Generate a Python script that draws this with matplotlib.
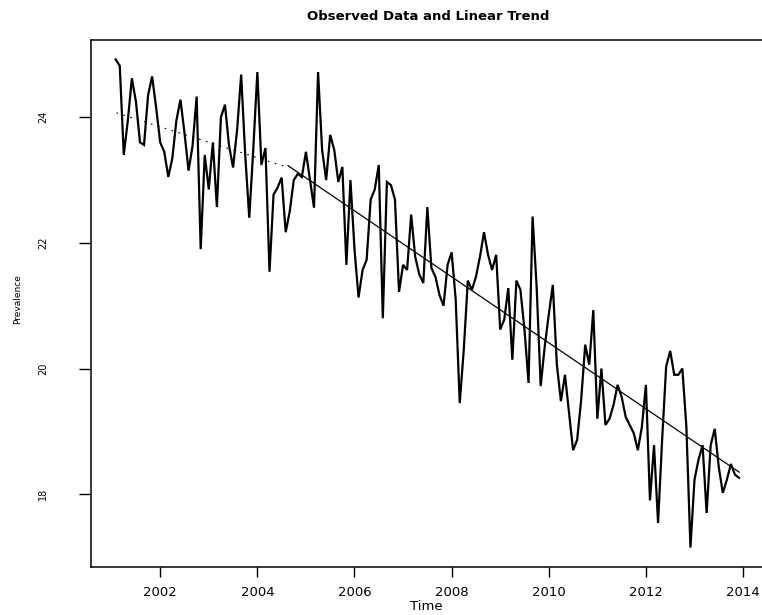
import numpy as np
import matplotlib
matplotlib.use('Agg')
import matplotlib.pyplot as plt

# monthly prevalence, Feb 2001 .. Dec 2013
prevalence = [
    24.92, 24.82, 23.40, 23.95, 24.62, 24.25, 23.60, 23.56, 24.35, 24.65, 24.15,
    23.60, 23.45, 23.05, 23.35, 23.95, 24.28, 23.75, 23.15, 23.55, 24.33, 21.90, 23.40,
    22.85, 23.60, 22.57, 24.00, 24.20, 23.55, 23.20, 23.80, 24.68, 23.40, 22.40, 23.50,
    24.72, 23.24, 23.51, 21.54, 22.77, 22.88, 23.04, 22.17, 22.50, 23.00, 23.10, 23.05,
    23.45, 23.00, 22.56, 24.72, 23.48, 23.00, 23.72, 23.48, 22.97, 23.21, 21.65, 23.00,
    21.90, 21.13, 21.57, 21.73, 22.69, 22.85, 23.24, 20.80, 22.97, 22.92, 22.69, 21.22,
    21.65, 21.57, 22.45, 21.78, 21.50, 21.36, 22.57, 21.60, 21.46, 21.17, 21.00, 21.65,
    21.85, 21.10, 19.45, 20.30, 21.40, 21.25, 21.46, 21.78, 22.17, 21.81, 21.57, 21.81,
    20.62, 20.78, 21.28, 20.14, 21.40, 21.25, 20.62, 19.77, 22.42, 21.30, 19.72, 20.35,
    20.86, 21.33, 20.06, 19.48, 19.90, 19.30, 18.70, 18.86, 19.50, 20.38, 20.06, 20.93,
    19.20, 20.00, 19.10, 19.20, 19.42, 19.74, 19.55, 19.23, 19.10, 18.97, 18.70, 19.07,
    19.74, 17.90, 18.78, 17.54, 18.86, 20.03, 20.28, 19.90, 19.90, 20.00, 19.07, 17.15,
    18.23, 18.55, 18.78, 17.70, 18.78, 19.04, 18.43, 18.02, 18.23, 18.48, 18.31, 18.26,
]
start_year = 2001 + 1 / 12
time = start_year + np.arange(len(prevalence)) / 12

# fitted linear trend (solid) and the faint early segment (dotted)
trend_time = [2004.63, 2013.92]
trend_vals = [23.23, 18.35]
early_time = [2001.10, 2004.63]
early_vals = [24.07, 23.20]

x_ticks = [2002, 2004, 2006, 2008, 2010, 2012, 2014]
y_ticks = [18, 20, 22, 24]

fig = plt.figure(figsize=(7.62, 6.15), dpi=100)
ax = fig.add_axes([91 / 762, 48 / 615, 671 / 762, 527 / 615])

ax.plot(time, prevalence, color='black', lw=1.6, solid_joinstyle='miter')
ax.plot(trend_time, trend_vals, color='black', lw=0.9)
ax.plot(early_time, early_vals, color='black', lw=0.8, linestyle=(0, (1.5, 5)))

ax.set_xlim(2000.575, 2014.39)
ax.set_ylim(16.84, 25.23)

ax.set_xticks(x_ticks)
ax.set_xticklabels([str(t) for t in x_ticks], fontsize=9.5)
ax.set_yticks(y_ticks)
ax.set_yticklabels([str(t) for t in y_ticks], fontsize=7, rotation=90, va='center')
ax.tick_params(axis='x', direction='out', length=7, width=1, pad=7)
ax.tick_params(axis='y', direction='out', length=9, width=1, pad=22)

for side in ['left', 'bottom', 'top']:
    ax.spines[side].set_linewidth(1.1)
ax.spines['right'].set_visible(False)

fig.text(428 / 762, 1 - 16 / 615, 'Observed Data and Linear Trend',
         ha='center', va='center', fontsize=9.5, fontweight='bold')
fig.text(426 / 762, 1 - 606 / 615, 'Time', ha='center', va='center', fontsize=9.5)
fig.text(18 / 762, 1 - 299 / 615, 'Prevalence', ha='center', va='center',
         fontsize=6.5, rotation=90)

fig.savefig('out.png', dpi=100)
